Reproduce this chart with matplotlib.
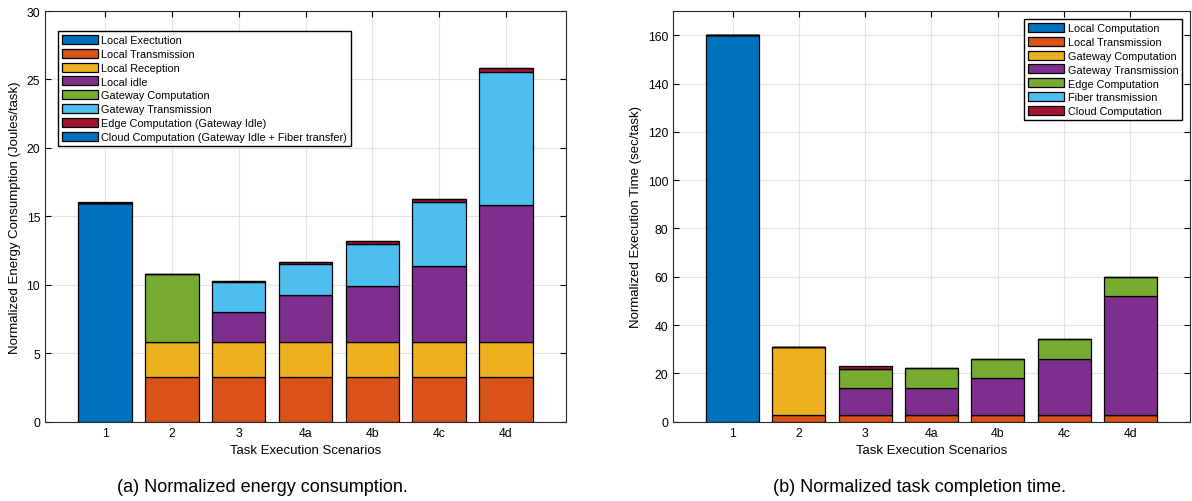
import matplotlib

matplotlib.use("Agg")
import matplotlib.pyplot as plt
import numpy as np

plt.rcParams["font.family"] = ["Liberation Sans", "DejaVu Sans"]

SCENARIOS = ["1", "2", "3", "4a", "4b", "4c", "4d"]

# (a) normalized energy consumption, Joules/task
ENERGY_LABELS = [
    "Local Exectution",
    "Local Transmission",
    "Local Reception",
    "Local idle",
    "Gateway Computation",
    "Gateway Transmission",
    "Edge Computation (Gateway Idle)",
    "Cloud Computation (Gateway Idle + Fiber transfer)",
]
local_exec = [16.0, 0, 0, 0, 0, 0, 0]
local_tx = [0, 3.24, 3.24, 3.24, 3.24, 3.24, 3.24]
local_rx = [0, 2.56, 2.56, 2.56, 2.56, 2.56, 2.56]
local_idle = [0, 0, 2.19, 3.43, 4.13, 5.6, 10.03]
gw_comp = [0, 4.97, 0, 0, 0, 0, 0]
gw_tx = [0, 0, 2.24, 2.27, 3.03, 4.63, 9.71]
edge_comp = [0, 0, 0.03, 0.2, 0.26, 0.26, 0.28]
cloud_comp = [0.04, 0.03, 0, 0, 0, 0, 0]

# (b) normalized execution time, sec/task
TIME_LABELS = [
    "Local Computation",
    "Local Transmission",
    "Gateway Computation",
    "Gateway Transmission",
    "Edge Computation",
    "Fiber transmission",
    "Cloud Computation",
]
t_local_comp = [160.0, 0, 0, 0, 0, 0, 0]
t_local_tx = [0, 2.8, 2.8, 2.8, 2.8, 2.8, 2.8]
t_gw_comp = [0, 28.0, 0, 0, 0, 0, 0]
t_gw_tx = [0, 0, 11.2, 11.2, 15.2, 23.3, 49.1]
t_edge_comp = [0, 0, 7.9, 8.2, 8.0, 8.3, 7.9]
t_fiber = [0, 0, 0, 0, 0, 0, 0]
t_cloud = [0, 0, 1.2, 0, 0, 0, 0]

COLORS = ["#0072BD", "#D95319", "#EDB120", "#7E2F8E", "#77AC30", "#4DBEEE", "#A2142F"]

LEGEND_KW = dict(fontsize=7.8, frameon=True, fancybox=False, edgecolor="black",
                 framealpha=1, handlelength=3.3, handleheight=0.9, borderpad=0.35,
                 labelspacing=0.33, handletextpad=0.35, borderaxespad=0)


def stacked(ax, series, labels, colors):
    x = np.arange(1, len(SCENARIOS) + 1)
    bottom = np.zeros(len(x))
    for vals, lab, col in zip(series, labels, colors):
        vals = np.asarray(vals, dtype=float)
        ax.bar(x, vals, 0.8, bottom=bottom, color=col, edgecolor="black",
               linewidth=0.9, label=lab, zorder=3)
        bottom += vals
    ax.set_xticks(x)
    ax.set_xticklabels(SCENARIOS)
    ax.set_xlim(0.1, 7.9)
    ax.set_xlabel("Task Execution Scenarios", fontsize=9.5)
    ax.grid(True, color="#e3e3e3", linewidth=0.8, zorder=0)
    ax.tick_params(direction="in", top=True, right=True, labelsize=8.8, length=4)
    for s in ax.spines.values():
        s.set_color("#262626")
        s.set_linewidth(0.8)


fig = plt.figure(figsize=(11.92, 5.02), dpi=100)
ax1 = fig.add_axes([0.0378, 0.158, 0.437, 0.818])
ax2 = fig.add_axes([0.5646, 0.158, 0.4337, 0.818])

stacked(ax1,
        [local_exec, local_tx, local_rx, local_idle, gw_comp, gw_tx, edge_comp, cloud_comp],
        ENERGY_LABELS, COLORS + [COLORS[0]])
ax1.set_ylim(0, 30)
ax1.set_yticks(range(0, 31, 5))
ax1.set_ylabel("Normalized Energy Consumption (Joules/task)", fontsize=9.5)
ax1.legend(loc="upper left", bbox_to_anchor=(0.025, 0.951), **LEGEND_KW)

stacked(ax2,
        [t_local_comp, t_local_tx, t_gw_comp, t_gw_tx, t_edge_comp, t_fiber, t_cloud],
        TIME_LABELS, COLORS)
ax2.set_ylim(0, 170)
ax2.set_yticks(range(0, 161, 20))
ax2.set_ylabel("Normalized Execution Time (sec/task)", fontsize=9.5)
ax2.legend(loc="upper right", bbox_to_anchor=(0.985, 0.98), **LEGEND_KW)

fig.text(0.2205, 0.02, "(a) Normalized energy consumption.", ha="center", fontsize=13)
fig.text(0.7715, 0.02, "(b) Normalized task completion time.", ha="center", fontsize=13)

fig.savefig("out.png", dpi=100)
